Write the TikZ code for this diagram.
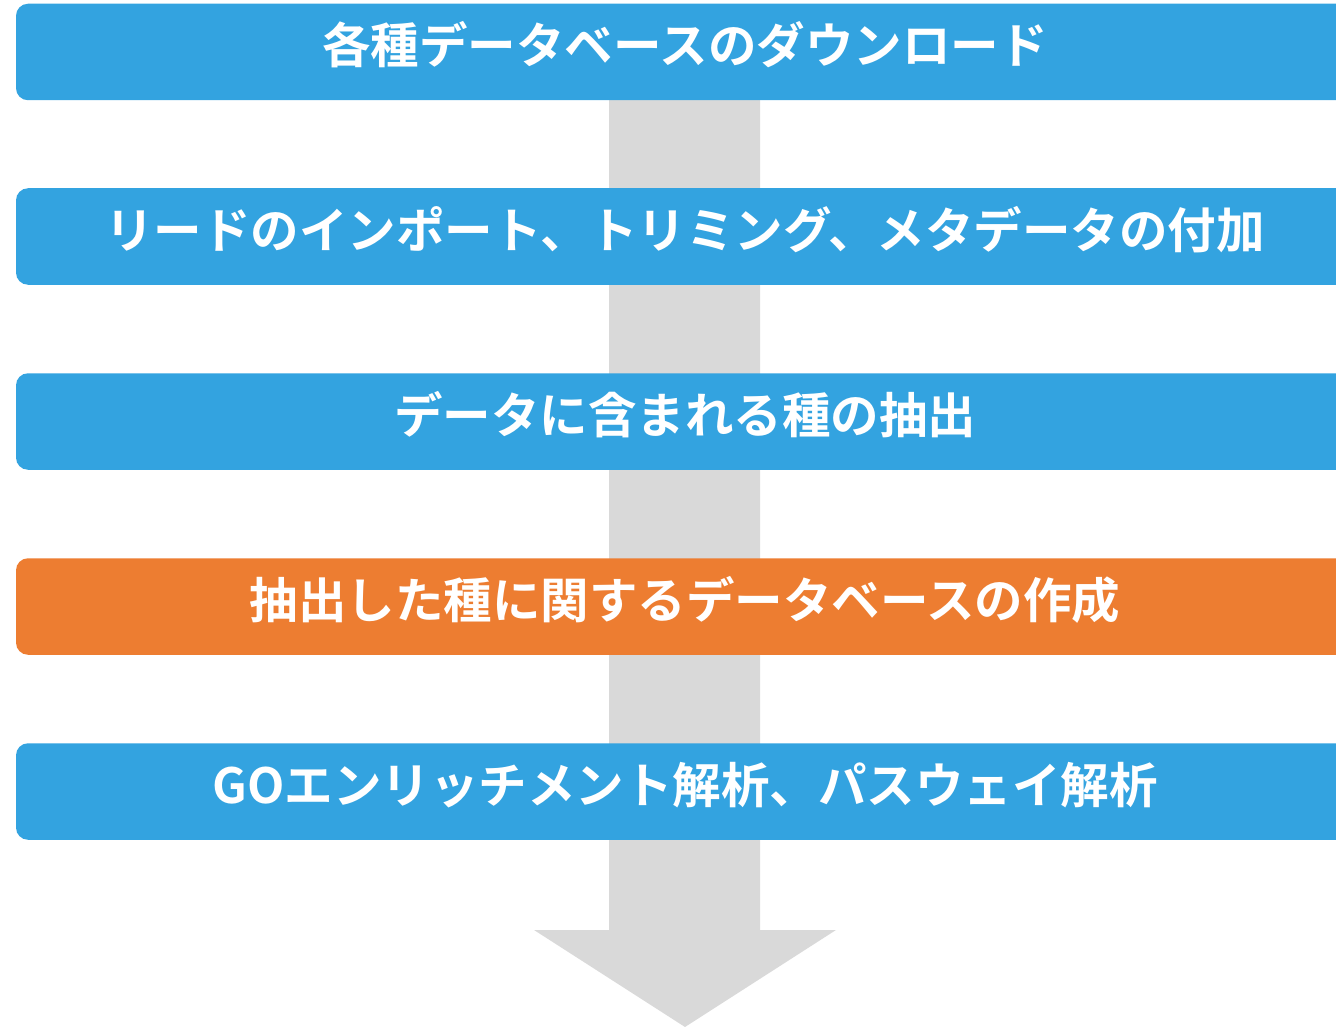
\documentclass[tikz,border=0pt]{standalone}
\usepackage{fontspec}
\newfontfamily\jpbold{Noto Sans CJK JP Bold}
\definecolor{stepblue}{HTML}{33A3E0}
\definecolor{steporange}{HTML}{ED7D31}
\definecolor{arrowgray}{HTML}{D9D9D9}
\newcommand{\steptext}[1]{\raisebox{-12pt}[0pt][0pt]{#1}}
\begin{document}
\begin{tikzpicture}[x=1pt,y=-1pt,
  stepbox/.style={fill=stepblue, draw=none, rounded corners=12pt,
    minimum width=1338pt, minimum height=96.5pt, inner sep=0pt,
    text=white, font=\jpbold\fontsize{48.5}{52}\selectfont},
  hilite/.style={stepbox, fill=steporange}]
\clip (0,0) rectangle (1336,1027);
\useasboundingbox (0,0) rectangle (1336,1027);
% big down arrow behind the boxes
\fill[arrowgray] (609,60) -- (760,60) -- (760,930) -- (836,930) -- (685,1027)
  -- (534,930) -- (609,930) -- cycle;
\node[stepbox] (s1) at (685,52) {\steptext{各種データベースのダウンロード}};
\node[stepbox] (s2) at (685,236.5) {\steptext{リードのインポート、トリミング、メタデータの付加}};
\node[stepbox] (s3) at (685,421.5) {\steptext{データに含まれる種の抽出}};
\node[hilite]  (s4) at (685,606.5) {\steptext{抽出した種に関するデータベースの作成}};
\node[stepbox] (s5) at (685,791.5) {\steptext{GOエンリッチメント解析、パスウェイ解析}};
\end{tikzpicture}
\end{document}
